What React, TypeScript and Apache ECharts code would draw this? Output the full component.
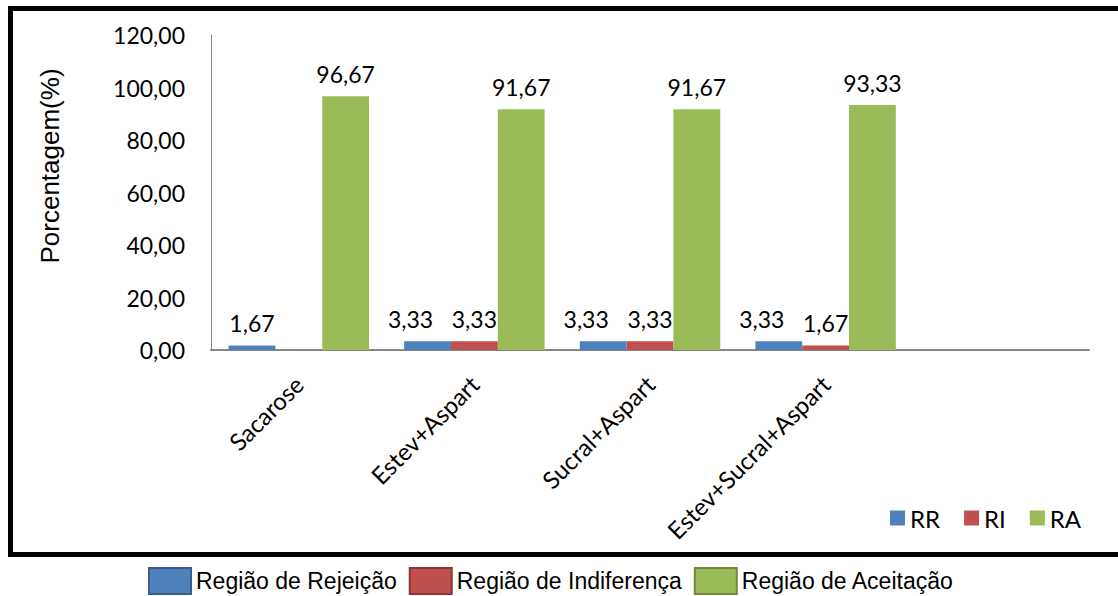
import React, { useEffect, useRef } from "react";
import * as echarts from "echarts";

const categories = ["Sacarose", "Estev+Aspart", "Sucral+Aspart", "Estev+Sucral+Aspart", ""];
const rrValues = [1.67, 3.33, 3.33, 3.33];
const riValues = [0, 3.33, 3.33, 1.67];
const raValues = [96.67, 91.67, 91.67, 93.33];
const innerLegend = ["RR", "RI", "RA"];
const outerLegend = ["Região de Rejeição", "Região de Indiferença", "Região de Aceitação"];
const yTicks = { min: 0, max: 120, interval: 20 };
const yName = "Porcentagem(%)";

const COLORS = ["#4F81BD", "#C0504D", "#9BBB59"];
const BORDERS = ["#385D8A", "#8C3836", "#71893F"];
const FONT = "Lato, 'Open Sans', sans-serif";
const ARIAL = "'Liberation Sans', Arial, sans-serif";

const fmt = (v: number) => v.toFixed(2).replace(".", ",");

export default function App() {
  const ref = useRef<HTMLDivElement>(null);
  useEffect(() => {
    if (!ref.current) return;
    const chart = echarts.init(ref.current, undefined, { renderer: "svg" });
    const labelStyle = {
      show: true,
      position: "top",
      distance: 11,
      fontFamily: FONT,
      fontSize: 23,
      color: "#000",
      formatter: (p: any) => (p.value ? fmt(p.value) : ""),
    };
    const mk = (name: string, vals: number[], i: number, shiftIdx?: (k: number) => number) => ({
      name,
      type: "bar",
      barGap: "0%",
      barCategoryGap: "20%",
      itemStyle: { color: COLORS[i] },
      label: labelStyle,
      data: vals.map((v, k) => {
        const s = shiftIdx ? shiftIdx(k) : 0;
        return s ? { value: v, label: { offset: [s, 0] } } : v;
      }),
    });
    const dummies = outerLegend.map((n, i) => ({
      name: n,
      type: "line",
      data: [],
      itemStyle: { color: COLORS[i], borderColor: BORDERS[i], borderWidth: 2 },
      lineStyle: { color: COLORS[i] },
    }));
    chart.setOption({
      animation: false,
      backgroundColor: "#fff",
      grid: { left: 211, right: 29, top: 35, bottom: 246, containLabel: false },
      legend: [
        {
          data: innerLegend,
          left: 890,
          top: 506,
          padding: 0,
          icon: "rect",
          itemWidth: 15,
          itemHeight: 15,
          itemGap: 24,
          textStyle: { fontFamily: FONT, fontSize: 24, color: "#000" },
        },
        {
          data: outerLegend.map((n, i) => ({
            name: n,
            icon: "rect",
            itemStyle: { color: COLORS[i], borderColor: BORDERS[i], borderWidth: 2 },
          })),
          left: 148,
          top: 567,
          padding: 0,
          itemWidth: 42,
          itemHeight: 26,
          itemGap: 12,
          textStyle: { fontFamily: ARIAL, fontSize: 23, color: "#000" },
        },
      ],
      xAxis: {
        type: "category",
        data: categories,
        axisLine: { lineStyle: { color: "#868686", width: 2 } },
        axisTick: { show: false },
        axisLabel: {
          rotate: 45,
          margin: 30,
          interval: 0,
          fontFamily: FONT,
          fontSize: 24,
          color: "#000",
        },
      },
      yAxis: {
        type: "value",
        min: yTicks.min,
        max: yTicks.max,
        interval: yTicks.interval,
        axisLine: { show: true, lineStyle: { color: "#868686", width: 1 } },
        axisTick: { show: false },
        splitLine: { show: false },
        axisLabel: {
          margin: 26,
          formatter: (v: number) => fmt(v),
          fontFamily: FONT,
          fontSize: 23,
          color: "#000",
        },
      },
      graphic: [
        {
          type: "rect",
          shape: { x: 10.5, y: 8.5, width: 1130, height: 546 },
          style: { fill: "none", stroke: "#000", lineWidth: 5 },
          silent: true,
        },
        {
          type: "text",
          x: 50,
          y: 166,
          rotation: Math.PI / 2,
          style: {
            text: yName,
            fontFamily: ARIAL,
            fontSize: 26,
            fill: "#000",
            textAlign: "center",
            textVerticalAlign: "middle",
          },
        },
      ],
      series: [
        mk(innerLegend[0], rrValues, 0, (k) => (k > 0 ? -17 : 0)),
        mk(innerLegend[1], riValues, 1),
        mk(innerLegend[2], raValues, 2),
        ...dummies,
      ],
    });
    return () => chart.dispose();
  }, []);
  return (
    <div
      ref={ref}
      style={{ position: "fixed", left: 0, top: 0, width: 1118, height: 596 }}
    />
  );
}
